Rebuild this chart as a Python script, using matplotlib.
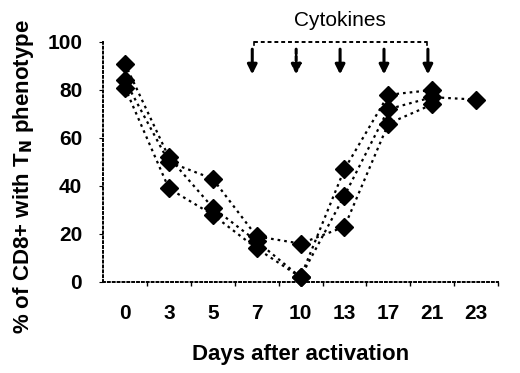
import matplotlib
matplotlib.use("Agg")
import matplotlib.pyplot as plt
import numpy as np

days = ["0", "3", "5", "7", "10", "13", "17", "21", "23"]
series_a = [91, 52, 31, 17, 2, 47, 78, 80]
series_b = [84, 50, 43, 19, 16, 23, 66, 74]
series_c = [81, 39, 28, 14, 2, 36, 72, 77, 76]
cytokine_days = ["7", "10", "13", "17", "21"]

plt.rcParams['font.family'] = ['Liberation Sans', 'DejaVu Sans']

fig = plt.figure(figsize=(5.2, 3.73), dpi=100)
ax = fig.add_axes([0.198, 0.244, 0.76, 0.6434])

for s in (series_a, series_b, series_c):
    x = np.arange(len(s))
    ax.plot(x, s, linestyle=(0, (1.2, 1.8)), color='black', lw=1.6,
            marker='D', ms=9, mfc='black', mec='black', clip_on=False, zorder=3)

ax.set_xlim(-0.5, 8.5)
ax.set_ylim(0, 100)
ax.set_xticks(np.arange(len(days)))
ax.set_xticklabels(days, fontsize=15, fontweight='bold')
ax.set_xticks(np.arange(len(days)) + 0.5, minor=True)
ax.tick_params(axis='x', which='major', length=0, pad=16)
ax.tick_params(axis='x', which='minor', length=3, direction='out', width=1)
ax.set_yticks([0, 20, 40, 60, 80, 100])
ax.set_yticklabels(['0', '20', '40', '60', '80', '100'], fontsize=15, fontweight='bold')
ax.tick_params(axis='y', length=3, direction='out', pad=12)

for side in ('top', 'right'):
    ax.spines[side].set_visible(False)
for side in ('left', 'bottom'):
    ax.spines[side].set_linestyle((0, (1, 1.5)))
    ax.spines[side].set_linewidth(1.4)

ax.set_xlabel("Days after activation", fontsize=16, fontweight='bold', labelpad=15)
ax.set_ylabel(r"% of CD8+ with T$_\mathbf{N}$ phenotype", fontsize=16,
              fontweight='bold', labelpad=8, y=0.44)

# cytokine annotation
idx = [days.index(d) - 0.1 for d in cytokine_days]
x_start, x_end = idx[0] + 0.05, idx[-1] - 0.02
ax.plot([x_start, x_end], [100, 100], color='black', lw=1.4,
        linestyle=(0, (2, 1.5)), clip_on=False)
for xe in (x_start, x_end):
    ax.plot([xe, xe], [100, 98.8], color='black', lw=1.2, clip_on=False)
for i, xi in enumerate(idx):
    ax.annotate("", xy=(xi, 86.5), xytext=(xi, 97),
                arrowprops=dict(arrowstyle='-|>', color='black', lw=2.2,
                                mutation_scale=14, shrinkA=0, shrinkB=0,
                                linestyle=(0, (1.5, 0.8)) if i == 1 else '-'),
                annotation_clip=False)
ax.text((idx[0] + idx[-1]) / 2, 109, "Cytokines", ha='center', va='center',
        fontsize=15, clip_on=False)

fig.savefig("out.png", dpi=100)
